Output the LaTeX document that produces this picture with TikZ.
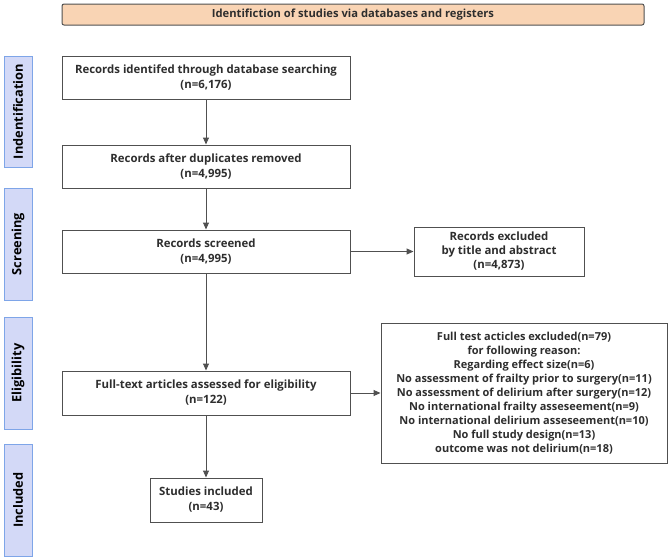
\documentclass[tikz,border=0pt]{standalone}
\usepackage{fontspec}
\setmainfont{Open Sans}
\usetikzlibrary{arrows.meta}
\definecolor{txt}{HTML}{2E2E2E}
\definecolor{edge}{HTML}{505050}
\definecolor{peach}{HTML}{F9D4B4}
\definecolor{bandfill}{HTML}{D3D9F7}
\definecolor{bandedge}{HTML}{7EA5E8}
\tikzset{
  box/.style={draw=edge, line width=1pt, fill=white, align=center, text=txt,
    font=\fontsize{11.4}{15}\selectfont\bfseries, inner sep=0pt},
  band/.style={draw=bandedge, line width=1pt, fill=bandfill, inner sep=0pt,
    minimum width=28pt, text=black, font=\fontsize{12.8}{14}\selectfont\bfseries},
  arr/.style={draw=edge, line width=1pt, -{Triangle[length=7pt,width=6pt]}},
}
\begin{document}
\begin{tikzpicture}[x=1pt,y=-1pt]
\useasboundingbox (0,0) rectangle (669,558);
% header
\node[draw=edge, line width=1pt, fill=peach, rounded corners=2pt, minimum width=582pt, minimum height=21pt,
  inner sep=0pt, text=txt, font=\fontsize{11.2}{12}\selectfont\bfseries] (hdr) at (353,14.5)
  {Identifiction of studies via databases and registers};
% side bands
\node[band, minimum height=111pt] (bid) at (18,111.5) {\rotatebox{90}{Indentification}};
\node[band, minimum height=112pt] (bsc) at (18,244) {\rotatebox{90}{Screening}};
\node[band, minimum height=112pt] (bel) at (18,373) {\rotatebox{90}{Eligibility}};
\node[band, minimum height=112pt] (bin) at (18,500) {\rotatebox{90}{Included}};
% main boxes
\node[box, minimum width=288pt, minimum height=43pt] (b1) at (206,77.5)
  {Records identifed through database searching\\(n=6,176)};
\node[box, minimum width=288pt, minimum height=43pt] (b2) at (206,166.5)
  {Records after duplicates removed\\(n=4,995)};
\node[box, minimum width=288pt, minimum height=43pt] (b3) at (206,251.5)
  {Records screened\\(n=4,995)};
\node[box, minimum width=170pt, minimum height=49pt, font=\fontsize{11.4}{14}\selectfont\bfseries] (ex1) at (499,251.5)
  {Records excluded\\by title and abstract\\(n=4,873)};
\node[box, minimum width=288pt, minimum height=44pt] (b4) at (206,393)
  {Full-text articles assessed for eligibility\\(n=122)};
\node[box, minimum width=286pt, minimum height=140pt, font=\fontsize{11}{14}\selectfont\bfseries] (ex2) at (524,393)
  {Full test acticles excluded(n=79)\\for following reason:\\Regarding effect size(n=6)\\
   No assessment of frailty prior to surgery(n=11)\\No assessment of delirium after surgery(n=12)\\
   No international frailty asseseement(n=9)\\No international delirium asseseement(n=10)\\
   No full study design(n=13)\\outcome was not delirium(n=18)};
\node[box, minimum width=112pt, minimum height=44pt] (b5) at (206,500)
  {Studies included\\(n=43)};
% connectors
\draw[arr] (b1) -- (b2);
\draw[arr] (b2) -- (b3);
\draw[arr] (b3) -- (ex1);
\draw[arr] (b3) -- (b4);
\draw[arr] (b4) -- (ex2);
\draw[arr] (b4) -- (b5);
\end{tikzpicture}
\end{document}
